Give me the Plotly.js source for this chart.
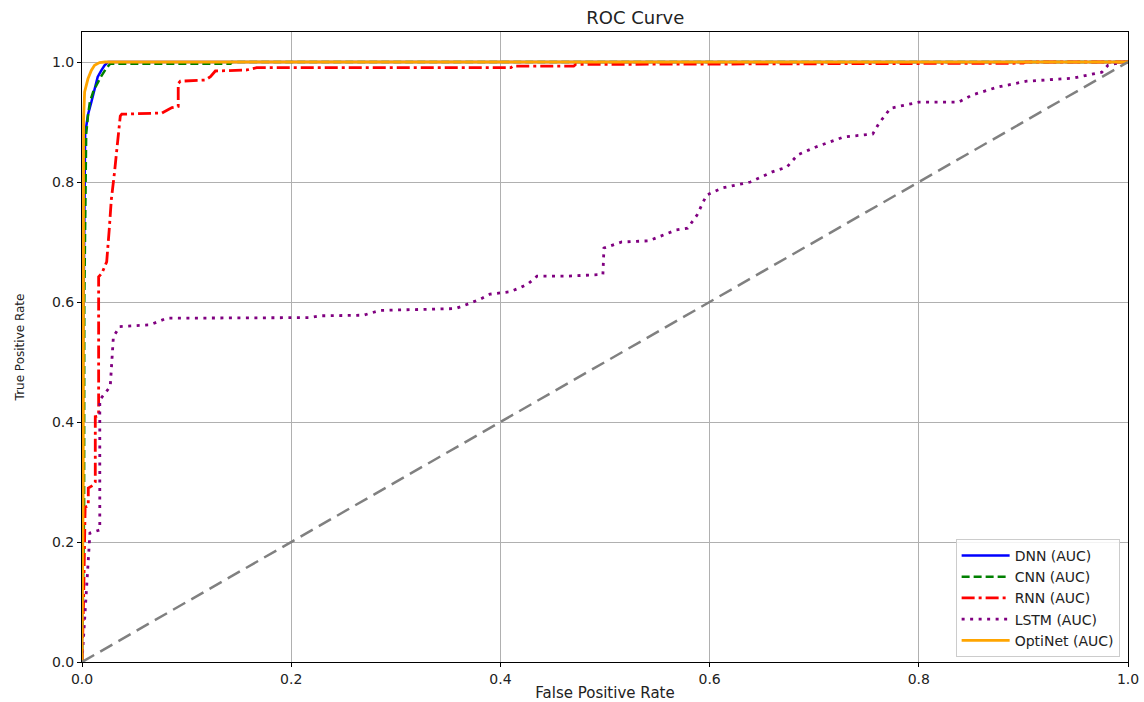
<!DOCTYPE html>
<html>
<head>
<meta charset="utf-8">
<script src="https://cdn.plot.ly/plotly-3.0.1.min.js"></script>
<style>html,body{margin:0;padding:0;background:#fff;}#chart{width:1144px;height:702px;}</style>
</head>
<body>
<div id="chart"></div>
<script>
// ---- data ----
var seriesNames = ["DNN (AUC)", "CNN (AUC)", "RNN (AUC)", "LSTM (AUC)", "OptiNet (AUC)"];

var dnnFpr = [0, 0.001, 0.003, 0.0057, 0.0089, 0.012, 0.015, 0.0185, 0.0216, 0.025, 1.0];
var dnnTpr = [0, 0.5, 0.88, 0.912, 0.933, 0.955, 0.975, 0.986, 0.9945, 1.0, 1.0];

var cnnFpr = [0, 0.002, 0.0022, 0.004, 0.0057, 0.0075, 0.011, 0.014, 0.018, 0.023, 0.027, 0.142, 0.143, 1.0];
var cnnTpr = [0, 0.25, 0.6, 0.88, 0.91, 0.933, 0.952, 0.962, 0.975, 0.989, 0.997, 0.997, 1.0, 1.0];

var rnnFpr = [0, 0.0015, 0.003, 0.006, 0.006, 0.011, 0.0127, 0.0127, 0.0159, 0.0159, 0.019, 0.0236, 0.026, 0.028, 0.031, 0.034, 0.0366, 0.038, 0.0765, 0.086, 0.092, 0.092, 0.094, 0.118, 0.1228, 0.1275, 0.1576, 0.167, 0.41, 0.412, 0.47, 0.472, 0.64, 0.9, 0.902, 1.0];
var rnnTpr = [0, 0.1, 0.258, 0.26, 0.29, 0.295, 0.3, 0.409, 0.41, 0.642, 0.648, 0.667, 0.72, 0.77, 0.815, 0.87, 0.91, 0.913, 0.915, 0.924, 0.926, 0.964, 0.968, 0.97, 0.9755, 0.985, 0.9867, 0.9905, 0.9905, 0.993, 0.993, 0.996, 0.997, 0.998, 1.0, 1.0];

var lstmFpr = [0, 0.001, 0.003, 0.0076, 0.017, 0.017, 0.027, 0.030, 0.036, 0.065, 0.081, 0.189, 0.218, 0.2275, 0.269, 0.285, 0.349, 0.357, 0.368, 0.381, 0.39, 0.401, 0.409, 0.419, 0.427, 0.435, 0.463, 0.498, 0.499, 0.516, 0.542, 0.568, 0.579, 0.588, 0.597, 0.612, 0.639, 0.660, 0.674, 0.684, 0.701, 0.728, 0.756, 0.762, 0.773, 0.800, 0.838, 0.851, 0.875, 0.903, 0.947, 0.975, 0.981, 0.997, 1.0];
var lstmTpr = [0, 0.03, 0.092, 0.215, 0.22, 0.437, 0.459, 0.542, 0.559, 0.562, 0.573, 0.574, 0.574, 0.577, 0.578, 0.586, 0.588, 0.589, 0.596, 0.605, 0.613, 0.616, 0.617, 0.624, 0.631, 0.643, 0.643, 0.646, 0.69, 0.70, 0.702, 0.72, 0.723, 0.745, 0.778, 0.79, 0.80, 0.817, 0.825, 0.845, 0.858, 0.875, 0.88, 0.898, 0.923, 0.933, 0.933, 0.945, 0.958, 0.968, 0.973, 0.983, 0.995, 1.0, 1.0];

var optiFpr = [0, 0.0012, 0.0015, 0.0025, 0.0057, 0.0089, 0.012, 0.0168, 0.022, 1.0];
var optiTpr = [0, 0.3, 0.905, 0.95, 0.972, 0.986, 0.9945, 0.999, 1.0, 1.0];

var chanceFpr = [0, 1];
var chanceTpr = [0, 1];

var tickValues = [0, 0.2, 0.4, 0.6, 0.8, 1.0];
var tickLabels = ["0.0", "0.2", "0.4", "0.6", "0.8", "1.0"];

// ---- chart ----
var FONT = "DejaVu Sans, Verdana, sans-serif";

function curve(x, y, name, color, dash, width) {
  return {x: x, y: y, name: name, type: "scatter", mode: "lines",
          line: {color: color, dash: dash, width: width, shape: "linear"},
          hoverinfo: "skip"};
}

var traces = [
  curve(dnnFpr, dnnTpr, seriesNames[0], "#0000ff", "solid", 2.5),
  curve(cnnFpr, cnnTpr, seriesNames[1], "#008000", "8px,4px", 2.5),
  curve(rnnFpr, rnnTpr, seriesNames[2], "#ff0000", "13px,4px,3px,4px", 2.8),
  curve(lstmFpr, lstmTpr, seriesNames[3], "#800080", "3px,5.5px", 2.8),
  curve(optiFpr, optiTpr, seriesNames[4], "#ffa500", "solid", 2.8)
];
var chance = curve(chanceFpr, chanceTpr, "chance", "#808080", "14px,7px", 2.5);
chance.showlegend = false;
traces.push(chance);

function axis(range, titleText, titleSize, standoff) {
  return {
    range: range, autorange: false,
    tickmode: "array", tickvals: tickValues, ticktext: tickLabels,
    tickfont: {family: FONT, size: 14, color: "#222"},
    ticks: "outside", ticklen: 4, tickwidth: 1, tickcolor: "#000",
    showline: true, mirror: true, linecolor: "#000", linewidth: 1,
    showgrid: true, gridcolor: "#b0b0b0", gridwidth: 1,
    zeroline: false, fixedrange: true,
    title: {text: titleText, font: {family: FONT, size: titleSize, color: "#222"}, standoff: standoff}
  };
}

var layout = {
  width: 1144, height: 702,
  paper_bgcolor: "#ffffff", plot_bgcolor: "#ffffff",
  margin: {l: 82, r: 16, t: 32, b: 40, pad: 0},
  title: {text: "ROC Curve", x: 0.529, xanchor: "center", xref: "paper",
          y: 1 - 18 / 702, yanchor: "middle", yref: "container",
          font: {family: FONT, size: 18, color: "#222"}},
  xaxis: axis([0, 1], "False Positive Rate", 15, 4),
  yaxis: axis([0, 1.05], "True Positive Rate", 12, 24),
  showlegend: true,
  legend: {x: 0.992, y: 0.008, xanchor: "right", yanchor: "bottom",
           bgcolor: "rgba(255,255,255,0.85)", bordercolor: "#cccccc", borderwidth: 1,
           font: {family: FONT, size: 14, color: "#222"}, tracegroupgap: 0,
           itemwidth: 48, entrywidth: 190, entrywidthmode: "pixels"},
  hovermode: false
};

Plotly.newPlot("chart", traces, layout, {staticPlot: true, displayModeBar: false});
</script>
</body>
</html>
